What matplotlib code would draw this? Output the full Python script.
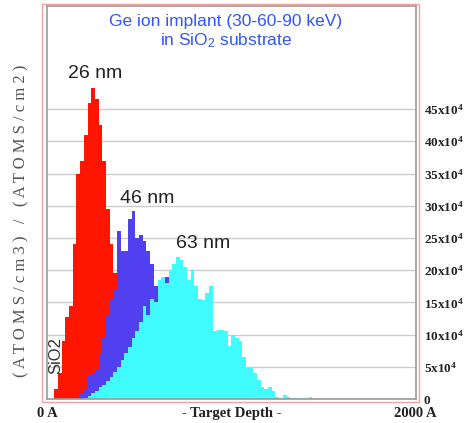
import numpy as np
import matplotlib
matplotlib.use('Agg')
from matplotlib import pyplot
from matplotlib.patches import Rectangle

pyplot.rcParams['mathtext.default'] = 'regular'

# ion range histograms, 20 A bins, values in units of 1e4 (ATOMS/cm3)/(ATOMS/cm2)
bin_width = 20
red_start = 40
red_vals = [1.5, 4, 9, 12.8, 14.5, 24, 35, 37, 41, 46, 48.3, 46.5, 42.5, 37, 29.5, 24, 19.5,
            16, 12.5, 9.5, 7, 5, 3.5, 2.3, 1.4, 0.8, 0.4, 0.2]
blue_start = 160
blue_vals = [0.3, 0.8, 1.5, 3.5, 4, 4.5, 7, 9.5, 13, 15.5, 17, 26, 23, 23, 28, 29.2, 25, 25.5,
             24.5, 23, 21, 17.5, 17.5, 17.5, 19, 16.5, 15, 13, 11, 9, 7, 5.5, 4, 3, 2, 1.3,
             0.8, 0.4, 0.2]
cyan_start = 200
cyan_vals = [0.1, 0.4, 0.9, 1.3, 1.8, 2.2, 2.8, 3.4, 4.2, 5, 6, 7.2, 8, 9.5, 10.5, 12, 14.5,
             13, 15.5, 15, 18.5, 19, 18, 20, 21, 22, 21.5, 20.5, 18.5, 20, 17.5, 15.5, 15.4,
             16.5, 17.5, 10.5, 10.7, 10.7, 10.5, 8.3, 10, 9.5, 9, 6.5, 4.8, 4.8, 4, 3, 1.9,
             1.5, 1.9, 1.3, 0.3, 0.1, 0.6, 0.3, 0.1, 0.1, 0.2, 0, 0.1, 0.3]

y_ticks = [0, 5, 10, 15, 20, 25, 30, 35, 40, 45]
y_tick_labels = ['0'] + [f'{v}x10$^{{4}}$' for v in y_ticks[1:]]
x_ticks = [0, 1000, 2000]
x_tick_labels = ['0 A', '- Target Depth -', '2000 A']
peak_labels = ['26 nm', '46 nm', '63 nm']
peak_pos = [(260, 49.9), (543, 30.4), (846, 23.4)]

W, H = 469, 423
fig = pyplot.figure(figsize=(W / 100, H / 100), dpi=100)
ax = fig.add_axes([47 / W, (H - 399) / H, (415.5 - 47) / W, (399 - 6) / H])

for start, vals, col in [(red_start, red_vals, '#ff1500'),
                         (blue_start, blue_vals, '#5040f0'),
                         (cyan_start, cyan_vals, '#40fcff')]:
    edges = start + bin_width * np.arange(len(vals) + 1)
    ax.stairs(vals, edges, fill=True, color=col, lw=0, zorder=2)

ax.set_xlim(0, 2000)
ax.set_ylim(0, 61.0)
ax.set_yticks(y_ticks)
ax.set_yticklabels(y_tick_labels)
ax.yaxis.tick_right()
ax.tick_params(axis='y', length=0, pad=6, labelsize=9.5)
ax.set_xticks(x_ticks)
ax.set_xticklabels(x_tick_labels)
ax.tick_params(axis='x', length=0, pad=6, labelsize=10.5)
for lab in ax.get_yticklabels() + ax.get_xticklabels():
    lab.set_family('Liberation Serif')
    lab.set_weight('bold')
    lab.set_color('#222222')
ax.grid(axis='y', color='#cccccc', lw=1, zorder=0)
ax.set_axisbelow(True)
for s in ax.spines.values():
    s.set_color('#999999')
    s.set_linewidth(1.2)

fig.patches.append(Rectangle((42 / W, (H - 402) / H), (419 - 42) / W, (402 - 4) / H,
                             transform=fig.transFigure, fill=False,
                             edgecolor='#f4a0a0', lw=1))

ax.text(0.485, 0.98, 'Ge ion implant (30-60-90 keV)\nin SiO$_2$ substrate',
        transform=ax.transAxes, ha='center', va='top', color='#3355ff',
        family='Liberation Sans', fontsize=12.5, linespacing=1.15)
for lab, (x, y) in zip(peak_labels, peak_pos):
    ax.text(x, y, lab, ha='center', va='baseline', fontsize=14,
            family='Liberation Sans', color='#222222', zorder=5)
ax.text(50, 6.7, 'SiO2', rotation=90, ha='center', va='center', fontsize=12,
        family='Liberation Sans', color='#333333', zorder=5)

ylab = '( A T O M S / c m 3 )   /   ( A T O M S / c m 2 )'
fig.text(21 / W, (H - 221) / H, ylab, rotation=90, ha='center', va='center',
         family='Liberation Serif', fontsize=12, color='#555555')

fig.savefig('out.png', dpi=100)
